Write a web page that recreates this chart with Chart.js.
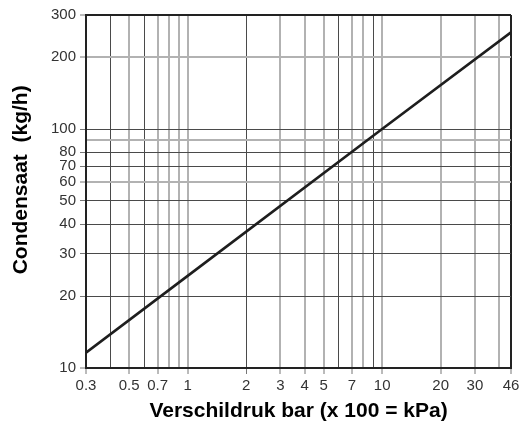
<!DOCTYPE html>
<html>
<head>
<meta charset="utf-8">
<script src="https://cdn.jsdelivr.net/npm/chart.js@4"></script>
<style>
html,body{margin:0;padding:0;background:#fff;}
#wrap{width:523px;height:425px;}
</style>
</head>
<body>
<div id="wrap"><canvas id="c" width="523" height="425"></canvas></div>
<script>
// Data
const lineX = [0.3, 1, 10, 46];
const lineY = [11.6, 24.3, 100, 254];

const xGridValues = [0.3,0.4,0.5,0.6,0.7,0.8,0.9,1,2,3,4,5,6,7,8,9,10,20,30,40,46];
const xTickLabels = [0.3,0.5,0.7,1,2,3,4,5,7,10,20,30,46];
const yGridValues = [10,20,30,40,50,60,70,80,90,100,200,300];
const yTickLabels = [10,20,30,40,50,60,70,80,100,200,300];

const xDark = [0.4,0.6,2,6,9];
const yDark = [20,30,40,50,70,80,100];

const FONT = '"Liberation Sans", Arial, Helvetica, sans-serif';

function gridColor(dark, edge){
  return function(ctx){
    const v = ctx.tick ? ctx.tick.value : null;
    if (edge.includes(v)) return '#222';
    return dark.includes(v) ? '#4a4a4a' : '#b2b2b2';
  };
}
function gridWidth(dark, edge){
  return function(ctx){
    const v = ctx.tick ? ctx.tick.value : null;
    if (edge.includes(v)) return 2;
    return dark.includes(v) ? 1 : 2;
  };
}
function tickColor(labels){
  return function(ctx){
    const v = ctx.tick ? ctx.tick.value : null;
    return labels.includes(v) ? '#777' : 'rgba(0,0,0,0)';
  };
}

new Chart(document.getElementById('c'), {
  type: 'line',
  data: {
    datasets: [{
      data: lineX.map((x, i) => ({x: x, y: lineY[i]})),
      borderColor: '#1e1e1e',
      borderWidth: 2.6,
      pointRadius: 0,
      fill: false,
      tension: 0
    }]
  },
  options: {
    responsive: false,
    devicePixelRatio: 1,
    animation: false,
    layout: {padding: {left: 0, right: 12, top: 15, bottom: 0}},
    plugins: {legend: {display: false}, tooltip: {enabled: false}},
    scales: {
      x: {
        type: 'logarithmic',
        min: 0.3, max: 46,
        afterBuildTicks: s => { s.ticks = xGridValues.map(v => ({value: v})); },
        afterFit: s => { s.height = 57; },
        ticks: {
          autoSkip: false, maxRotation: 0, minRotation: 0,
          padding: 3,
          color: '#333',
          font: {family: FONT, size: 15},
          callback: v => xTickLabels.includes(v) ? String(v) : ''
        },
        grid: {
          color: gridColor(xDark, [46]),
          lineWidth: gridWidth(xDark, [46]),
          drawTicks: true,
          tickLength: 6,
          tickColor: tickColor(xTickLabels),
          tickWidth: 1
        },
        border: {display: true, color: '#222', width: 2},
        title: {
          display: true,
          text: 'Verschildruk bar (x 100 = kPa)',
          color: '#000',
          font: {family: FONT, size: 21, weight: 'bold'},
          padding: {top: 0, bottom: 1}
        }
      },
      y: {
        type: 'logarithmic',
        min: 10, max: 300,
        afterBuildTicks: s => { s.ticks = yGridValues.map(v => ({value: v})); },
        afterFit: s => { s.width = 86; },
        ticks: {
          autoSkip: false,
          padding: 4,
          color: '#333',
          font: {family: FONT, size: 15},
          callback: v => yTickLabels.includes(v) ? String(v) : ''
        },
        grid: {
          color: gridColor(yDark, [300]),
          lineWidth: gridWidth(yDark, [300]),
          drawTicks: true,
          tickLength: 6,
          tickColor: tickColor(yTickLabels),
          tickWidth: 1
        },
        border: {display: true, color: '#222', width: 2},
        title: {
          display: true,
          text: '    Condensaat  (kg/h)',
          color: '#000',
          font: {family: FONT, size: 21, weight: 'bold'},
          padding: {top: 9, bottom: 0}
        }
      }
    }
  }
});
</script>
</body>
</html>
